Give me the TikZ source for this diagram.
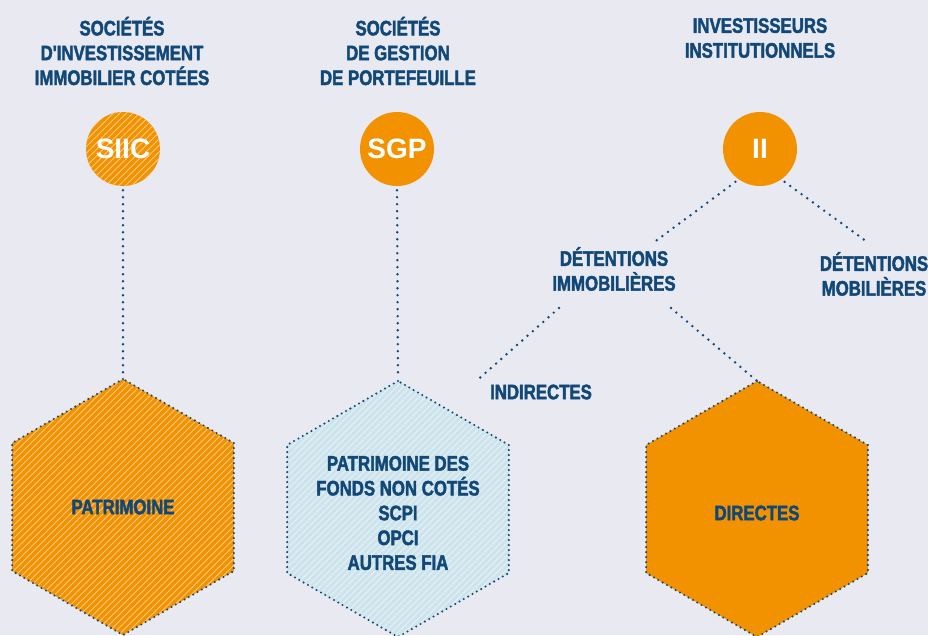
\documentclass[tikz,border=0pt]{standalone}
\usepackage{fontspec}
\setmainfont{Liberation Sans Bold}[FakeStretch=0.8, FakeBold=2, Ligatures=TeXOff]
\newfontfamily\widefont{Liberation Sans Bold}
\usetikzlibrary{shapes.geometric,calc}
\definecolor{bg}{RGB}{232,233,241}
\definecolor{orng}{RGB}{243,146,0}
\definecolor{navy}{RGB}{18,72,120}
\definecolor{lblue}{RGB}{206,228,237}
\tikzset{
  lbl/.style={font=\fontsize{21}{24.8}\selectfont, text=navy, align=center, inner sep=0pt},
  circ/.style={circle, fill=orng, minimum size=74pt, inner sep=0pt,
    font=\widefont\fontsize{28}{28}\selectfont, text=white},
  hatch/.style={path picture={
    \foreach \k in {-45,...,45}
      \draw[white, opacity=0.5, line width=0.9pt, solid, line cap=butt]
        ($(path picture bounding box.center)+(\k*6.5pt-200pt,-200pt)$) -- ++(400pt,400pt);}},
  hexa/.style={regular polygon, regular polygon sides=6, shape border rotate=30,
    minimum size=256pt, inner sep=0pt, outer sep=0pt,
    draw=navy, line width=2.3pt, dash pattern=on 0pt off 5pt, line cap=round},
  dots/.style={draw=navy, line width=2.7pt, line cap=round, dash pattern=on 0pt off 7pt,
    shorten <=4pt, shorten >=3pt}
}
\begin{document}
\begin{tikzpicture}[x=1pt,y=-1pt]
\fill[bg] (0,0) rectangle (928,635);
\useasboundingbox (0,0) rectangle (928,635);

% titles
\node[lbl] (t1) at (122,51) {SOCIÉTÉS\\D'INVESTISSEMENT\\IMMOBILIER COTÉES};
\node[lbl] (t2) at (398,51) {SOCIÉTÉS\\DE GESTION\\DE PORTEFEUILLE};
\node[lbl] (t3) at (760,38) {INVESTISSEURS\\INSTITUTIONNELS};

% circles
\node[circ, hatch] (siic) at (123,149) {SIIC};
\node[circ] (sgp) at (397,149) {SGP};
\node[circ] (ii) at (760,149) {II};

% hexagons
\node[hexa, fill=orng, hatch, label={[lbl]center:PATRIMOINE}] (h1) at (123,507) {};
\node[hexa, fill=lblue, hatch, label={[lbl, yshift=-4pt]center:PATRIMOINE DES\\FONDS NON COTÉS\\SCPI\\OPCI\\AUTRES FIA}] (h2) at (398,509) {};
\node[hexa, fill=orng, label={[lbl, yshift=-4pt]center:DIRECTES}] (h3) at (757,509) {};

% labels
\node[lbl] (dimm) at (614,269) {DÉTENTIONS\\IMMOBILIÈRES};
\node[lbl] (dmob) at (874,274) {DÉTENTIONS\\MOBILIÈRES};
\node[lbl] (indir) at (541,392) {INDIRECTES};

% connectors
\draw[dots] (siic.south) -- (h1.north);
\draw[dots] (sgp.south) -- (h2.north);
\draw[dots] (ii.235) -- ($(dimm.center)+(39pt,26pt)$);
\draw[dots] (ii.305) -- ($(dmob.center)+(-4pt,30pt)$);
\draw[dots, shorten <=0pt] ($(dimm.center)+(-55pt,-39pt)$) -- ($(indir.center)+(-67pt,9pt)$);
\draw[dots, shorten <=0pt, shorten >=0pt] ($(dimm.center)+(57pt,-39pt)$) -- (h3.north);
\end{tikzpicture}
\end{document}
